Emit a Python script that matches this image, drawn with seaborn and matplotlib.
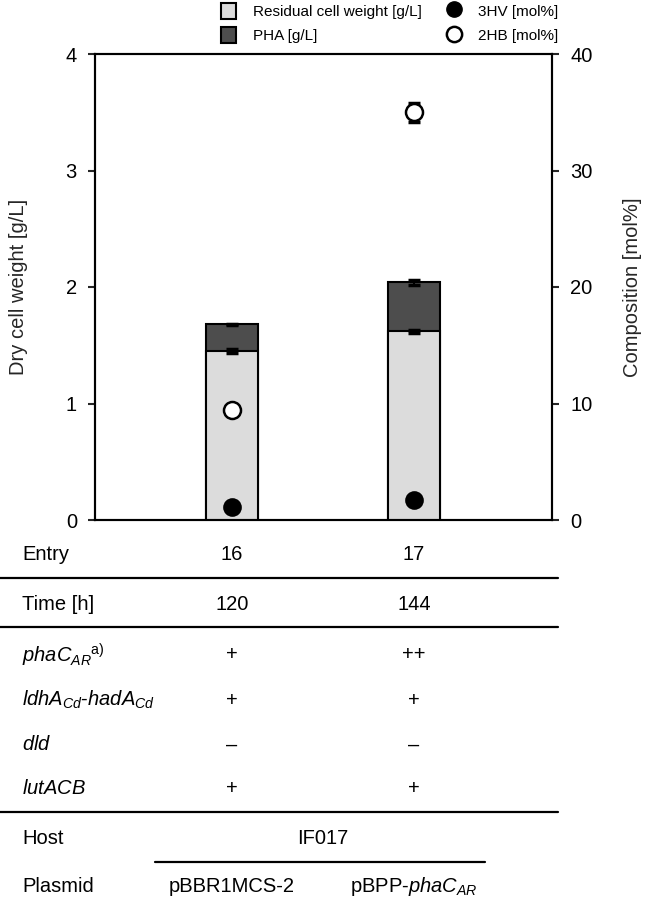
import numpy as np
import pandas as pd
import matplotlib
matplotlib.use("Agg")
import matplotlib.pyplot as plt
import seaborn as sns
from matplotlib.patches import Patch
from matplotlib.lines import Line2D

# ---------------- data ----------------
entries = ["16", "17"]
residual = [1.45, 1.62]          # g/L
residual_err = [0.02, 0.015]
pha = [0.23, 0.42]               # g/L
total_err = [0.005, 0.02]
hv3 = [1.1, 1.7]                 # mol%
hb2 = [9.4, 35.0]                # mol%
hb2_err = [0.3, 0.8]

row_labels = ["Entry", "Time [h]", r"$phaC_{AR}$$^{\mathrm{a)}}$",
              r"$ldhA_{Cd}$-$hadA_{Cd}$", r"$dld$", r"$lutACB$"]
row_values = [["16", "17"], ["120", "144"], ["+", "++"], ["+", "+"],
              ["\u2013", "\u2013"], ["+", "+"]]
host_label = "Host"
host_value = "IF017"
plasmid_label = "Plasmid"
plasmid_values = ["pBBR1MCS-2", r"pBPP-$phaC_{AR}$"]

legend_labels = ["Residual cell weight [g/L]", "PHA [g/L]", "3HV [mol%]", "2HB [mol%]"]
left_ticks = [0, 1, 2, 3, 4]
right_ticks = [0, 10, 20, 30, 40]

# ---------------- style ----------------
sns.set_style("ticks")
plt.rcParams["font.family"] = ["Liberation Sans", "DejaVu Sans"]
plt.rcParams["mathtext.fontset"] = "custom"
plt.rcParams["mathtext.rm"] = "Liberation Sans"
plt.rcParams["mathtext.it"] = "Liberation Sans:italic"
plt.rcParams["mathtext.bf"] = "Liberation Sans:bold"
plt.rcParams["text.color"] = "black"

LIGHT = "#dcdcdc"
DARK = "#4d4d4d"
FS = 14.5

W, H = 645, 900
fig = plt.figure(figsize=(W / 100, H / 100), dpi=100)


def fx(x):
    return x / W


def fy(y):
    return 1 - y / H


ax = fig.add_axes([fx(95), fy(520), (552 - 95) / W, (520 - 54) / H])

df = pd.DataFrame({"entry": entries,
                   "residual": residual,
                   "total": np.array(residual) + np.array(pha)})

sns.barplot(data=df, x="entry", y="total", color=DARK, width=0.29,
            edgecolor="black", linewidth=1.5, saturation=1, ax=ax, zorder=2)
sns.barplot(data=df, x="entry", y="residual", color=LIGHT, width=0.29,
            edgecolor="black", linewidth=1.5, saturation=1, ax=ax, zorder=3)

xpos = np.arange(len(entries))
ax.errorbar(xpos, df["residual"], yerr=residual_err, fmt="none", ecolor="black",
            elinewidth=1.5, capsize=4, capthick=2.5, zorder=4)
ax.errorbar(xpos, df["total"], yerr=total_err, fmt="none", ecolor="black",
            elinewidth=1.5, capsize=4, capthick=2.5, zorder=4)

ax.set_xlim(-0.753, 1.758)
ax.set_ylim(0, 4)
ax.set_yticks(left_ticks)
ax.set_xticks([])
ax.set_xlabel("")
ax.set_ylabel("Dry cell weight [g/L]", fontsize=FS, labelpad=27)
ax.tick_params(axis="y", labelsize=FS, length=5, width=1.5, pad=8, direction="out",
               labelcolor="black")
for s in ax.spines.values():
    s.set_linewidth(1.5)
    s.set_color("black")

ax2 = ax.twinx()
ax2.set_ylim(0, 40)
ax2.set_yticks(right_ticks)
ax2.errorbar(xpos, hb2, yerr=hb2_err, fmt="none", ecolor="black",
             elinewidth=1.5, capsize=4, capthick=2.5, zorder=4)
sns.scatterplot(x=xpos, y=hv3, ax=ax2, s=150, color="black", edgecolor="black",
                linewidth=1.2, zorder=5, legend=False)
sns.scatterplot(x=xpos, y=hb2, ax=ax2, s=150, color="white", edgecolor="black",
                linewidth=1.8, zorder=5, legend=False)
ax2.set_xlim(-0.753, 1.758)
ax2.set_ylabel("Composition [mol%]", fontsize=FS, labelpad=22)
ax2.tick_params(axis="y", labelsize=FS, length=5, width=1.5, pad=8, direction="out",
                labelcolor="black")
for s in ax2.spines.values():
    s.set_linewidth(1.5)
    s.set_color("black")

# ---------------- legend ----------------
handles = [Patch(facecolor=LIGHT, edgecolor="black", linewidth=1.5),
           Patch(facecolor=DARK, edgecolor="black", linewidth=1.5),
           Line2D([], [], marker="o", ls="none", mfc="black", mec="black", ms=11),
           Line2D([], [], marker="o", ls="none", mfc="white", mec="black", ms=11, mew=1.8)]
fig.legend(handles, legend_labels, ncol=2, loc="upper left",
           bbox_to_anchor=(fx(219), fy(1)), frameon=False, fontsize=11,
           handlelength=1.0, handleheight=1.25, handletextpad=1.1,
           columnspacing=1.6, labelspacing=0.55, borderaxespad=0, borderpad=0.1)

# ---------------- table ----------------
bar_x = [232, 414]
row_y = [555, 604, 655, 700, 745, 788]
for lab, vals, y in zip(row_labels, row_values, row_y):
    fig.text(fx(22), fy(y), lab, fontsize=FS, ha="left", va="center")
    for v, x in zip(vals, bar_x):
        fig.text(fx(x), fy(y), v, fontsize=FS, ha="center", va="center")

fig.text(fx(22), fy(838), host_label, fontsize=FS, ha="left", va="center")
fig.text(fx(323), fy(838), host_value, fontsize=FS, ha="center", va="center")
fig.text(fx(22), fy(886), plasmid_label, fontsize=FS, ha="left", va="center")
for v, x in zip(plasmid_values, bar_x):
    fig.text(fx(x), fy(886), v, fontsize=FS, ha="center", va="center")

for y in [578, 627, 812]:
    fig.add_artist(Line2D([0, fx(558)], [fy(y), fy(y)], color="black", lw=1.6))
fig.add_artist(Line2D([fx(155), fx(485)], [fy(862), fy(862)], color="black", lw=1.6))

fig.savefig("out.png", dpi=100)
